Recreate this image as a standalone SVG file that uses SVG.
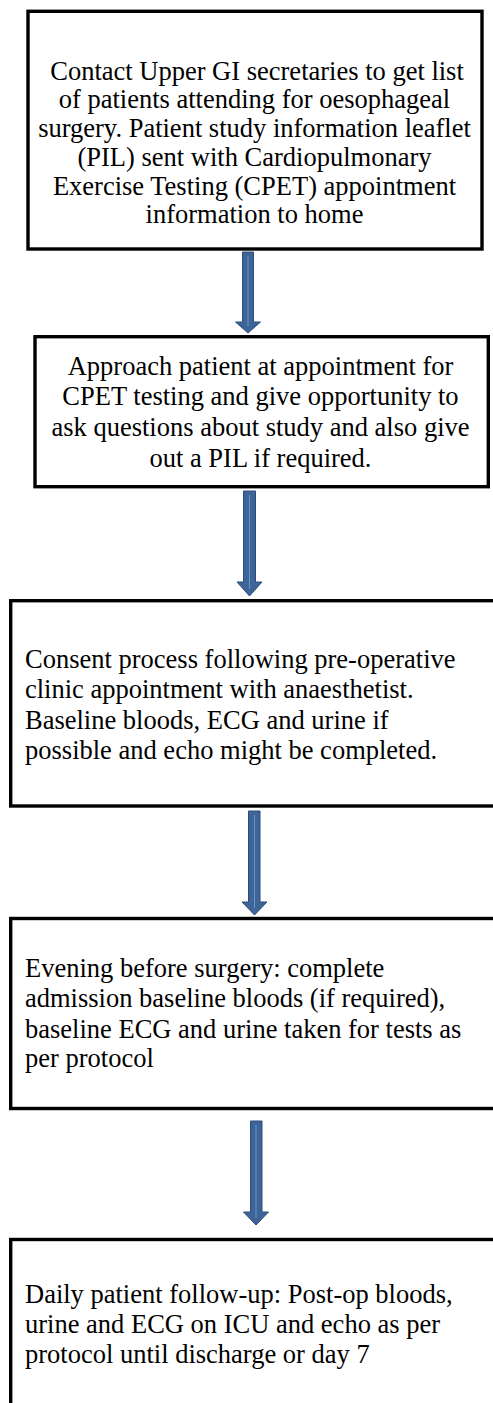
<svg xmlns="http://www.w3.org/2000/svg" width="493" height="1403" viewBox="0 0 493 1403">
  <style>
    .box { fill: #ffffff; stroke: #000000; stroke-width: 3.4; }
    .txt { font-size: 26.5px; fill: #000000; }
    .mid { text-anchor: middle; }
    .arrow { fill: #3e6598; stroke: #2c4d7a; stroke-width: 1; }
    .shine { stroke: #6a94c9; stroke-width: 1; fill: none; }
  </style>
  <rect width="493" height="1403" fill="#ffffff"/>

  <!-- Down arrows between steps -->
  <g id="connectors">
    <g id="arrow1">
      <path class="arrow" d="M242.5,252 H253.5 V322 H260.5 L248,333 L235.5,322 H242.5 Z"/>
      <line class="shine" x1="248" y1="256" x2="248" y2="326"/>
    </g>
    <g id="arrow2">
      <path class="arrow" d="M243.5,491 H255.5 V582 H262 L249.5,596 L237,582 H243.5 Z"/>
      <line class="shine" x1="249.5" y1="495" x2="249.5" y2="589"/>
    </g>
    <g id="arrow3">
      <path class="arrow" d="M248.5,811 H260 V902 H267 L254.5,915 L242,902 H248.5 Z"/>
      <line class="shine" x1="254.5" y1="815" x2="254.5" y2="908"/>
    </g>
    <g id="arrow4">
      <path class="arrow" d="M250.5,1121 H262 V1212 H268.5 L256,1225 L243.5,1212 H250.5 Z"/>
      <line class="shine" x1="256" y1="1125" x2="256" y2="1218"/>
    </g>
  </g>

  <g font-family="Liberation Serif, Times New Roman, serif">
    <g id="step1">
      <rect class="box" x="28" y="11.3" width="454" height="237.7"/>
      <text class="txt mid" x="257" y="79.5">Contact Upper GI secretaries to get list</text>
      <text class="txt mid" x="254.5" y="108">of patients attending for oesophageal</text>
      <text class="txt mid" x="254.5" y="137">surgery. Patient study information leaflet</text>
      <text class="txt mid" x="254.5" y="165.5">(PIL) sent with Cardiopulmonary</text>
      <text class="txt mid" x="254.5" y="194.5">Exercise Testing (CPET) appointment</text>
      <text class="txt mid" x="254.5" y="223">information to home</text>
    </g>

    <g id="step2">
      <rect class="box" x="35" y="336.7" width="453.3" height="150"/>
      <text class="txt mid" x="260.5" y="374.5">Approach patient at appointment for</text>
      <text class="txt mid" x="260.5" y="405">CPET testing and give opportunity to</text>
      <text class="txt mid" x="260.5" y="435.5">ask questions about study and also give</text>
      <text class="txt mid" x="260.5" y="466.5">out a PIL if required.</text>
    </g>

    <g id="step3">
      <rect class="box" x="10.7" y="600.7" width="495" height="205.3"/>
      <text class="txt" x="25" y="667.5">Consent process following pre-operative</text>
      <text class="txt" x="25" y="698">clinic appointment with anaesthetist.</text>
      <text class="txt" x="25" y="728.5">Baseline bloods, ECG and urine if</text>
      <text class="txt" x="25" y="759">possible and echo might be completed.</text>
    </g>

    <g id="step4">
      <rect class="box" x="10.7" y="918.5" width="495" height="190"/>
      <text class="txt" x="25" y="976.5">Evening before surgery: complete</text>
      <text class="txt" x="25" y="1007">admission baseline bloods (if required),</text>
      <text class="txt" x="25" y="1037.5">baseline ECG and urine taken for tests as</text>
      <text class="txt" x="25" y="1067">per protocol</text>
    </g>

    <g id="step5">
      <rect class="box" x="10.7" y="1239.5" width="495" height="190"/>
      <text class="txt" x="25" y="1303">Daily patient follow-up: Post-op bloods,</text>
      <text class="txt" x="25" y="1333">urine and ECG on ICU and echo as per</text>
      <text class="txt" x="25" y="1363">protocol until discharge or day 7</text>
    </g>
  </g>
</svg>
